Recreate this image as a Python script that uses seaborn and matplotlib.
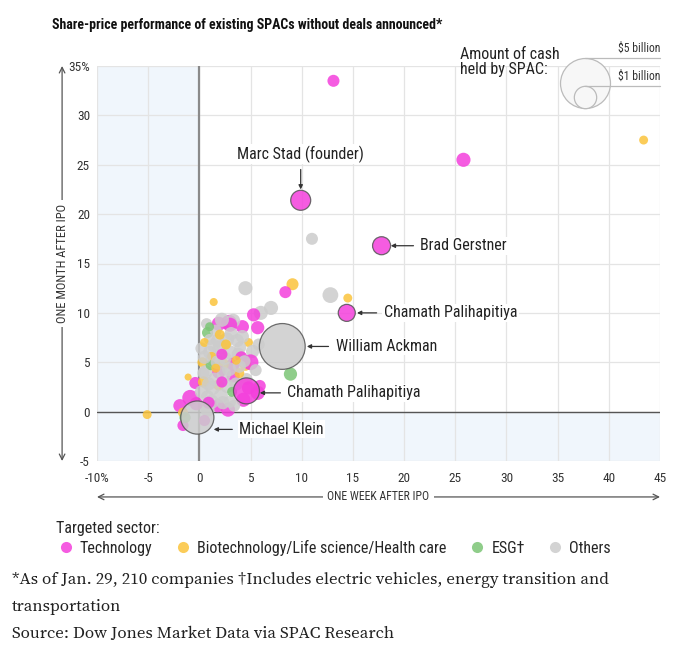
import matplotlib
matplotlib.use("Agg")
import matplotlib.pyplot as plt
import seaborn as sns
import pandas as pd
from matplotlib.lines import Line2D

# Sector colours
palette = {
    "Technology": "#f43fdc",
    "Biotechnology/Life science/Health care": "#fbc43c",
    "ESG†": "#7cc576",
    "Others": "#cccccc",
}
T, B, E, O = "Technology", "Biotechnology/Life science/Health care", "ESG†", "Others"

# Unlabelled SPACs: one-week return, one-month return, cash ($bn), sector
week = [13.1, 25.8, 43.4, 11.0, 12.8, 14.5, 9.1, 8.4, 4.5, 1.4, 7.0, 6.0, 5.3, 5.7,
        4.2, 2.9, 3.3, 1.9, 0.7, 0.8, 8.9, 0.2, 1.8, 2.7, 3.7, 4.8, 5.2, 3.0, 3.3, 4.5,
        2.3, 5.0, 1.3, 0.3, 0.6, 1.9, 3.3, -0.4, -1.1, 0.4, 1.9, 1.3, 2.7, -0.9, -1.9,
        1.8, 2.8, 4.3, 5.7, -5.1, -1.6, 0.8, 2.1, -1.6, -1.4, 1.0, 2.0, 3.8, 4.0, 1.5,
        2.4, 3.6, 0.8, 3.0, 4.6, 0.2, 2.5, 1.6, 5.8, 1.0, 4.1, 3.0, 2.2, 4.8, -0.3, 0.5,
        1.2, 0.5, 3.9, 2.6, 1.0, 3.2, 2.0, 1.1,
        0.5, 1.8, 2.9, 3.9, 0.4, 1.2, 2.3, 3.4, 4.2, 2.2, 0.9, 5.5, 3.1, 1.4, 4.4,
        0.9, 2.2, 5.9, 1.6, 3.6]
month = [33.5, 25.5, 27.5, 17.5, 11.8, 11.5, 12.9, 12.1, 12.5, 11.1, 10.5, 10.0, 9.8, 8.5,
         8.6, 9.0, 9.2, 8.9, 8.9, 8.0, 3.8, 6.4, 7.2, 7.3, 7.2, 7.0, 6.1, 6.0, 4.8, 4.7,
         4.8, 5.0, 5.3, 5.0, 4.0, 4.0, 3.6, 2.9, 3.5, 3.0, 2.7, 2.4, 2.6, 1.4, 0.6,
         0.6, 0.2, 1.2, 1.9, -0.3, -1.4, 0.2, 1.6, -0.1, -0.6, 6.0, 6.5, 5.8, 6.5, 3.3,
         3.8, 2.8, 1.5, 1.0, 3.3, 2.0, 5.4, 8.2, 6.8, 7.3, 5.5, 8.8, 3.0, 2.4, 0.8, -0.9,
         5.6, 7.0, 3.9, 6.8, 8.6, 2.0, 7.8, 4.7,
         5.5, 5.0, 4.3, 4.6, 3.9, 1.0, 0.9, 0.6, 7.6, 9.3, 2.8, 4.2, 7.9, 6.7, 5.1,
         0.9, 5.8, 2.6, 4.4, 5.2]
cash = [0.29, 0.40, 0.16, 0.29, 0.50, 0.16, 0.29, 0.29, 0.40, 0.13, 0.40, 0.40, 0.35, 0.35,
        0.35, 0.50, 0.40, 0.40, 0.25, 0.25, 0.35, 0.29, 0.35, 0.40, 0.35, 0.16, 0.35, 0.40, 0.35, 0.25,
        0.29, 0.50, 0.40, 0.20, 0.40, 0.35, 0.35, 0.29, 0.10, 0.25, 0.25, 0.40, 0.40, 0.50, 0.35,
        0.35, 0.40, 0.40, 0.40, 0.16, 0.25, 0.40, 0.40, 0.20, 0.25, 0.35, 0.40, 0.35, 0.29, 0.35,
        0.40, 0.35, 0.35, 0.29, 0.29, 0.35, 0.35, 0.29, 0.29, 0.25, 0.29, 0.40, 0.25, 0.35, 0.35, 0.25,
        0.16, 0.16, 0.20, 0.20, 0.16, 0.20, 0.20, 0.20,
        0.35, 0.40, 0.40, 0.35, 0.29, 0.40, 0.35, 0.29, 0.35, 0.40, 0.35, 0.29, 0.35, 0.35, 0.29,
        0.29, 0.25, 0.29, 0.16, 0.16]
sector = [T, T, B, O, O, B, B, T, O, B, O, O, T, T,
          T, T, O, T, O, E, E, O, O, O, O, B, O, O, T, B,
          B, T, O, B, O, T, T, T, B, B, B, O, O, T, T,
          T, T, T, T, B, T, O, O, B, E, O, O, O, O, O,
          O, O, O, O, O, O, O, O, O, O, T, T, T, T, T, T,
          B, B, B, B, E, E, B, E,
          O, O, O, O, O, O, O, O, O, O, O, O, O, O, O,
          T, T, T, B, B]

# Labelled SPACs
lab_name = ["Marc Stad (founder)", "Brad Gerstner", "Chamath Palihapitiya",
            "William Ackman", "Chamath Palihapitiya", "Michael Klein"]
lab_week = [9.9, 17.8, 14.4, 8.1, 4.6, -0.2]
lab_month = [21.4, 16.8, 10.0, 6.6, 2.1, -0.6]
lab_cash = [0.80, 0.65, 0.58, 4.2, 1.35, 2.2]
lab_sector = [T, T, T, O, T, O]

x_ticks = [-10, -5, 0, 5, 10, 15, 20, 25, 30, 35, 40, 45]
x_labels = ["-10%", "-5", "0", "5", "10", "15", "20", "25", "30", "35", "40", "45"]
y_ticks = [-5, 0, 5, 10, 15, 20, 25, 30, 35]
y_labels = ["-5", "0", "5", "10", "15", "20", "25", "30", "35%"]

df = pd.DataFrame({"week": week, "month": month, "cash": cash, "sector": sector})
lab = pd.DataFrame({"week": lab_week, "month": lab_month, "cash": lab_cash, "sector": lab_sector})

sns.set_style("white")
plt.rcParams["font.family"] = ["Roboto Condensed", "DejaVu Sans"]

fig = plt.figure(figsize=(6.76, 6.52), dpi=100)
ax = fig.add_axes([97 / 676, 1 - 461 / 652, 563 / 676, 395 / 652])

# shaded negative regions
ax.axvspan(-10, 0, color="#f0f6fc", zorder=0, lw=0)
ax.axhspan(-5, 0, color="#f0f6fc", zorder=0, lw=0)

S_MAX = 1295  # marker area (pt^2) for $5 billion
sns.scatterplot(data=df, x="week", y="month", hue="sector", size="cash",
                palette=palette, sizes=(0, S_MAX), size_norm=(0, 5),
                alpha=0.85, linewidth=0, legend=False, ax=ax, zorder=3)
sns.scatterplot(data=lab, x="week", y="month", hue="sector", size="cash",
                palette=palette, sizes=(0, S_MAX), size_norm=(0, 5),
                alpha=0.85, edgecolor="#555555", linewidth=0.9, legend=False, ax=ax, zorder=4)

ax.axvline(0, color="#8a8a8a", lw=1.6, zorder=2)
ax.axhline(0, color="#555555", lw=1.0, zorder=2)

ax.set_xlim(-10, 45)
ax.set_ylim(-5, 35)
ax.set_xticks(x_ticks)
ax.set_xticklabels(x_labels)
ax.set_yticks(y_ticks)
ax.set_yticklabels(y_labels)
ax.grid(True, color="#e4e4e4", lw=0.9, zorder=1)
ax.set_axisbelow(True)
for s in ax.spines.values():
    s.set_visible(False)
ax.tick_params(axis="both", length=0, labelsize=9.5, colors="#333333")
ax.tick_params(axis="x", pad=8)
ax.tick_params(axis="y", pad=5)
ax.set_xlabel("")
ax.set_ylabel("")

# axis titles with double-headed arrows
ax.annotate("", xy=(0, -0.091), xytext=(1, -0.091), xycoords="axes fraction",
            arrowprops=dict(arrowstyle="<->", color="#555555", lw=0.9,
                            shrinkA=0, shrinkB=0), annotation_clip=False)
ax.text(0.5, -0.091, "ONE WEEK AFTER IPO", transform=ax.transAxes, ha="center",
        va="center", fontsize=8.5, color="#333333",
        bbox=dict(facecolor="white", edgecolor="none", pad=3))
ax.annotate("", xy=(-0.062, 0.0), xytext=(-0.062, 1.0), xycoords="axes fraction",
            arrowprops=dict(arrowstyle="<->", color="#555555", lw=0.9,
                            shrinkA=0, shrinkB=0), annotation_clip=False)
ax.text(-0.062, 0.5, "ONE MONTH AFTER IPO", transform=ax.transAxes, ha="center",
        va="center", rotation=90, fontsize=9, color="#333333",
        bbox=dict(facecolor="white", edgecolor="none", pad=3))

# callouts
arrow = dict(arrowstyle="-|>", color="#333333", lw=0.9, mutation_scale=6,
             shrinkA=4, shrinkB=0)
box = dict(facecolor="white", edgecolor="none", pad=1)
callout_pos = [(9.9, 26.1), (21.6, 16.8), (18.0, 10.0), (13.3, 6.6), (8.6, 1.9), (3.9, -1.8)]
arrow_end = [(9.9, 22.5), (18.7, 16.8), (15.4, 10.0), (10.5, 6.6), (5.9, 1.9), (1.4, -1.8)]
for i, name in enumerate(lab_name):
    ax.annotate(name, xy=arrow_end[i], xytext=callout_pos[i],
                ha="center" if i == 0 else "left", va="center",
                fontsize=11.5, color="#222222", arrowprops=arrow, bbox=box, zorder=6)

# size key
legend_cash = [5, 1]
cx = 0.867
r_big = (legend_cash[0] / 5 * S_MAX) ** 0.5 / 2 / 0.72 / 395  # radius in axes units
r_small = (legend_cash[1] / 5 * S_MAX) ** 0.5 / 2 / 0.72 / 395
base = 0.957 - r_big
for c, r in zip(legend_cash, [r_big, r_small]):
    ax.scatter([cx], [base + r], s=[c / 5 * S_MAX], transform=ax.transAxes,
               facecolor="#f7f7f7", edgecolor="#bbbbbb", lw=0.9, clip_on=False, zorder=5)
    ax.plot([cx, 1.0], [base + 2 * r, base + 2 * r], transform=ax.transAxes,
            color="#bbbbbb", lw=0.9, clip_on=False, zorder=5)
    ax.text(1.0, base + 2 * r + 0.008, f"${c} billion", transform=ax.transAxes,
            ha="right", va="bottom", fontsize=8.5, color="#333333", zorder=6)
fig.text(460 / 676, 1 - 62 / 652, "Amount of cash\nheld by SPAC:", ha="left", va="center",
         fontsize=11.5, color="#222222", linespacing=1.05)

fig.text(52 / 676, 1 - 25 / 652,
         "Share-price performance of existing SPACs without deals announced*",
         ha="left", va="center", fontsize=10, fontweight="bold", color="#111111")

# sector legend
handles = [Line2D([], [], marker="o", ls="", markersize=8, markeredgewidth=0,
                  color=palette[k], alpha=0.85) for k in palette]
leg = fig.legend(handles, list(palette), loc="upper left",
                 bbox_to_anchor=(48 / 676, 1 - 513 / 652), ncol=4, frameon=False,
                 title="Targeted sector:", fontsize=11.5, title_fontsize=11.5,
                 handletextpad=0.3, columnspacing=1.3, handlelength=1.2, borderpad=0,
                 labelspacing=0.25)
leg._legend_box.align = "left"

serif = ["Source Serif 4", "DejaVu Serif"]
fig.text(12 / 676, 1 - 580 / 652,
         "*As of Jan. 29, 210 companies \u2020Includes electric vehicles, energy transition and",
         ha="left", va="center", fontsize=12.2, family=serif, color="#222222")
fig.text(12 / 676, 1 - 607 / 652, "transportation", ha="left", va="center",
         fontsize=12.2, family=serif, color="#222222")
fig.text(12 / 676, 1 - 634 / 652, "Source: Dow Jones Market Data via SPAC Research",
         ha="left", va="center", fontsize=12.2, family=serif, color="#222222")

fig.savefig("out.png", dpi=100, facecolor="white")
